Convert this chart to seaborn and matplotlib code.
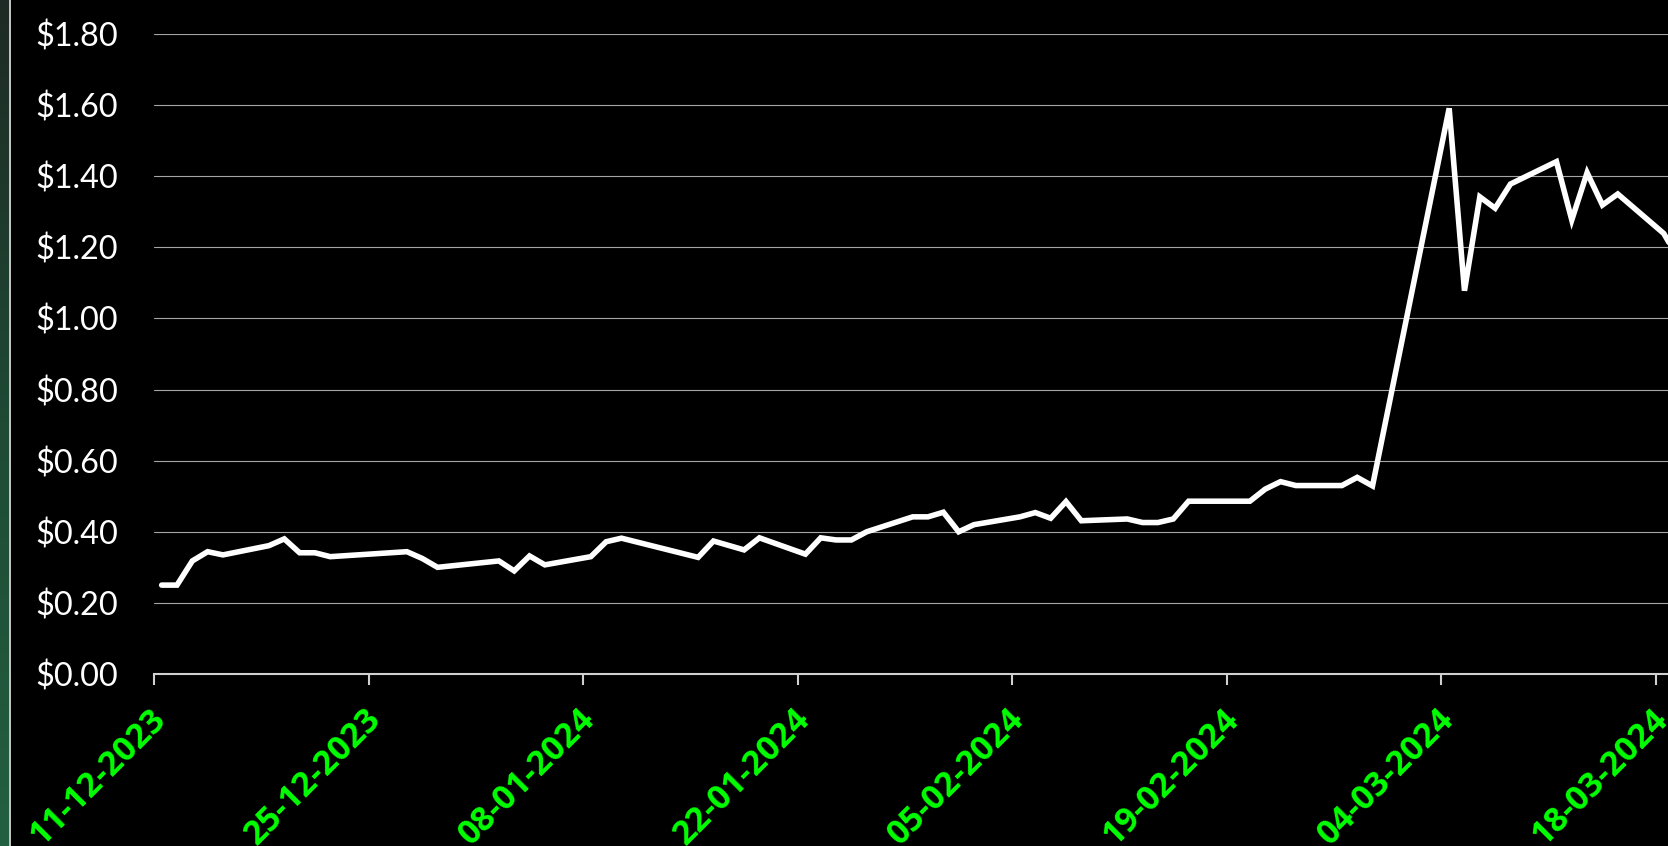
"""
plot.py
-----------
Linha de preço diária (dez/2023 - mar/2024), estilo Excel com fundo preto.
"""

import numpy as np
import pandas as pd
import matplotlib
matplotlib.use("Agg")
import matplotlib.pyplot as plt
import matplotlib.dates as mdates
import matplotlib.transforms as mtransforms
from matplotlib.colors import LinearSegmentedColormap
from matplotlib.ticker import FuncFormatter
import seaborn as sns

# -----------------------------
# Dados
# -----------------------------
dates = [
    "2023-12-11", "2023-12-12", "2023-12-13", "2023-12-14", "2023-12-15",
    "2023-12-18", "2023-12-19", "2023-12-20", "2023-12-21", "2023-12-22",
    "2023-12-27", "2023-12-28", "2023-12-29",
    "2024-01-02", "2024-01-03", "2024-01-04", "2024-01-05",
    "2024-01-08", "2024-01-09", "2024-01-10",
    "2024-01-15", "2024-01-16", "2024-01-18", "2024-01-19",
    "2024-01-22", "2024-01-23", "2024-01-24", "2024-01-25", "2024-01-26",
    "2024-01-29", "2024-01-30", "2024-01-31", "2024-02-01", "2024-02-02",
    "2024-02-05", "2024-02-06", "2024-02-07", "2024-02-08", "2024-02-09",
    "2024-02-12", "2024-02-13", "2024-02-14", "2024-02-15", "2024-02-16",
    "2024-02-20", "2024-02-21", "2024-02-22", "2024-02-23",
    "2024-02-26", "2024-02-27", "2024-02-28",
    "2024-03-04", "2024-03-05", "2024-03-06", "2024-03-07", "2024-03-08",
    "2024-03-11", "2024-03-12", "2024-03-13", "2024-03-14", "2024-03-15",
    "2024-03-18", "2024-03-19",
]
prices = [
    0.250, 0.250, 0.318, 0.344, 0.335,
    0.361, 0.380, 0.341, 0.341, 0.330,
    0.344, 0.325, 0.300,
    0.318, 0.290, 0.332, 0.307,
    0.330, 0.372, 0.382,
    0.328, 0.374, 0.349, 0.383,
    0.337, 0.383, 0.377, 0.377, 0.400,
    0.442, 0.442, 0.455, 0.400, 0.420,
    0.442, 0.454, 0.438, 0.485, 0.431,
    0.436, 0.426, 0.426, 0.436, 0.486,
    0.486, 0.520, 0.541, 0.530,
    0.530, 0.553, 0.529,
    1.591, 1.078, 1.342, 1.310, 1.378,
    1.441, 1.277, 1.410, 1.319, 1.350,
    1.239, 1.165,
]
tick_dates = ["2023-12-11", "2023-12-25", "2024-01-08", "2024-01-22",
              "2024-02-05", "2024-02-19", "2024-03-04", "2024-03-18"]
y_ticks = [0.0, 0.2, 0.4, 0.6, 0.8, 1.0, 1.2, 1.4, 1.6, 1.8]

# -----------------------------
# Estilo
# -----------------------------
W, H, DPI = 1668, 846, 100
GREEN = "#00ff00"
GRID = "#a6a6a6"
AXIS = "#d0d0d0"

sns.set_style("dark", {"axes.facecolor": "black", "figure.facecolor": "black"})
plt.rcParams["font.family"] = ["Lato", "DejaVu Sans"]

df = pd.DataFrame({"date": pd.to_datetime(dates), "price": prices})
# eixo de datas estilo Excel: cada ponto fica no meio do dia
df["x"] = df["date"] + pd.Timedelta(hours=12)

fig = plt.figure(figsize=(W / DPI, H / DPI), dpi=DPI)
ax = fig.add_axes([154 / W, (H - 674) / H, 1 - 154 / W, 640 / H])
ax.set_facecolor("black")

sns.lineplot(data=df, x="x", y="price", ax=ax, color="white",
             linewidth=4.0, solid_joinstyle="miter")

# limites
ax.set_xlim(pd.Timestamp("2023-12-11"), pd.Timestamp("2024-03-18 18:40"))
ax.set_ylim(0, 1.8)

# eixo y
ax.set_yticks(y_ticks)
ax.yaxis.set_major_formatter(FuncFormatter(lambda v, p: f"${v:.2f}"))
ax.tick_params(axis="y", length=0, pad=26, labelsize=23.3, labelcolor="white")
ax.grid(axis="y", color=GRID, linewidth=0.8)
ax.grid(axis="x", visible=False)

# eixo x
ax.set_xticks(pd.to_datetime(tick_dates))
ax.xaxis.set_major_formatter(mdates.DateFormatter("%d-%m-%Y"))
ax.tick_params(axis="x", bottom=True, direction="out", length=8, width=1.5,
               color=AXIS, pad=22, labelcolor=GREEN)
shift = mtransforms.ScaledTranslation(7 / DPI, 2 / DPI, fig.dpi_scale_trans)
for lab in ax.get_xticklabels():
    lab.set_fontfamily(["Open Sans", "DejaVu Sans"])
    lab.set_fontweight("bold")
    lab.set_fontsize(24.5)
    lab.set_rotation(45)
    lab.set_ha("right")
    lab.set_va("center")
    lab.set_rotation_mode("anchor")
    lab.set_transform(lab.get_transform() + shift)

for side in ["top", "right", "left"]:
    ax.spines[side].set_visible(False)
ax.spines["bottom"].set_color(AXIS)
ax.spines["bottom"].set_linewidth(1.5)
ax.set_xlabel("")
ax.set_ylabel("")

# faixa verde na borda esquerda + linha cinza
strip = fig.add_axes([0, 0, 9 / W, 1])
cmap = LinearSegmentedColormap.from_list("strip", ["#1e2a25", "#1f4a34", "#236041"])
strip.imshow(np.linspace(0, 1, 256).reshape(-1, 1), aspect="auto", cmap=cmap)
strip.set_axis_off()
fig.add_artist(plt.Line2D([10 / W, 10 / W], [0, 1], color="#c8c8c8",
                          linewidth=1.4, transform=fig.transFigure))

fig.savefig("out.png", dpi=DPI, facecolor="black")
